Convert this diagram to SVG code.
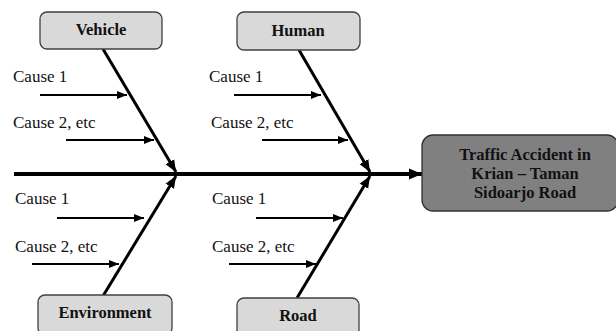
<svg xmlns="http://www.w3.org/2000/svg" width="616" height="331" viewBox="0 0 616 331">
<style>
.cat{fill:#d9d9d9;stroke:#404040;stroke-width:1.3}
.res{fill:#808080;stroke:#303030;stroke-width:1.3}
text{font-family:'Liberation Serif','Times New Roman',Times,serif}
.lbl{font-weight:bold;font-size:16.5px;fill:#111;text-anchor:middle}
.cause{font-size:17px;fill:#111}
.bone{stroke:#000;stroke-width:3;fill:none;marker-end:url(#ah)}
.sub{stroke:#000;stroke-width:2;fill:none;marker-end:url(#ahs)}
.spine{stroke:#000;stroke-width:4;fill:none;marker-end:url(#ahm)}
</style>
<defs>
<marker id="ah" markerUnits="userSpaceOnUse" markerWidth="14" markerHeight="12" refX="12" refY="6" orient="auto"><path d="M0,1 L12,6 L0,11 Z" fill="#000"/></marker>
<marker id="ahs" markerUnits="userSpaceOnUse" markerWidth="12" markerHeight="10" refX="10" refY="5" orient="auto"><path d="M0,1 L10,5 L0,9 Z" fill="#000"/></marker>
<marker id="ahm" markerUnits="userSpaceOnUse" markerWidth="14" markerHeight="12" refX="13" refY="6" orient="auto"><path d="M0,0.5 L13,6 L0,11.5 Z" fill="#000"/></marker>
</defs>
<g id="connectors">
<line class="spine" x1="14" y1="174" x2="422" y2="174"/>
<line class="bone" x1="103" y1="49" x2="176" y2="172"/>
<line class="bone" x1="299" y1="50" x2="370" y2="172"/>
<line class="bone" x1="103" y1="296" x2="176" y2="176"/>
<line class="bone" x1="297" y1="298" x2="370" y2="176"/>
<line class="sub" x1="40" y1="95" x2="127" y2="95"/>
<line class="sub" x1="66" y1="140" x2="154" y2="140"/>
<line class="sub" x1="234" y1="95" x2="321" y2="95"/>
<line class="sub" x1="262" y1="140" x2="348" y2="140"/>
<line class="sub" x1="57" y1="218" x2="144" y2="218"/>
<line class="sub" x1="32" y1="264" x2="119" y2="264"/>
<line class="sub" x1="256" y1="218" x2="343" y2="218"/>
<line class="sub" x1="229" y1="264" x2="316" y2="264"/>
</g>
<g id="causes">
<text class="cause" x="13" y="82">Cause 1</text>
<text class="cause" x="13" y="128">Cause 2, etc</text>
<text class="cause" x="209" y="82">Cause 1</text>
<text class="cause" x="211" y="128">Cause 2, etc</text>
<text class="cause" x="15" y="204">Cause 1</text>
<text class="cause" x="15" y="252">Cause 2, etc</text>
<text class="cause" x="212" y="204">Cause 1</text>
<text class="cause" x="212" y="252">Cause 2, etc</text>
</g>
<g id="vehicle"><rect class="cat" x="40" y="12" width="122" height="37" rx="7"/><text class="lbl" x="101" y="35">Vehicle</text></g>
<g id="human"><rect class="cat" x="237" y="12" width="123" height="38" rx="7"/><text class="lbl" x="298" y="36">Human</text></g>
<g id="environment"><rect class="cat" x="38" y="295" width="134" height="40" rx="7"/><text class="lbl" x="105" y="318">Environment</text></g>
<g id="road"><rect class="cat" x="237" y="298" width="122" height="40" rx="7"/><text class="lbl" x="298" y="321">Road</text></g>
<g id="result"><rect class="res" x="422" y="135" width="196" height="76" rx="11"/>
<text class="lbl" x="525" y="160" font-size="17">Traffic Accident in</text>
<text class="lbl" x="525" y="179" font-size="17">Krian – Taman</text>
<text class="lbl" x="525" y="198" font-size="17">Sidoarjo Road</text></g>
</svg>
